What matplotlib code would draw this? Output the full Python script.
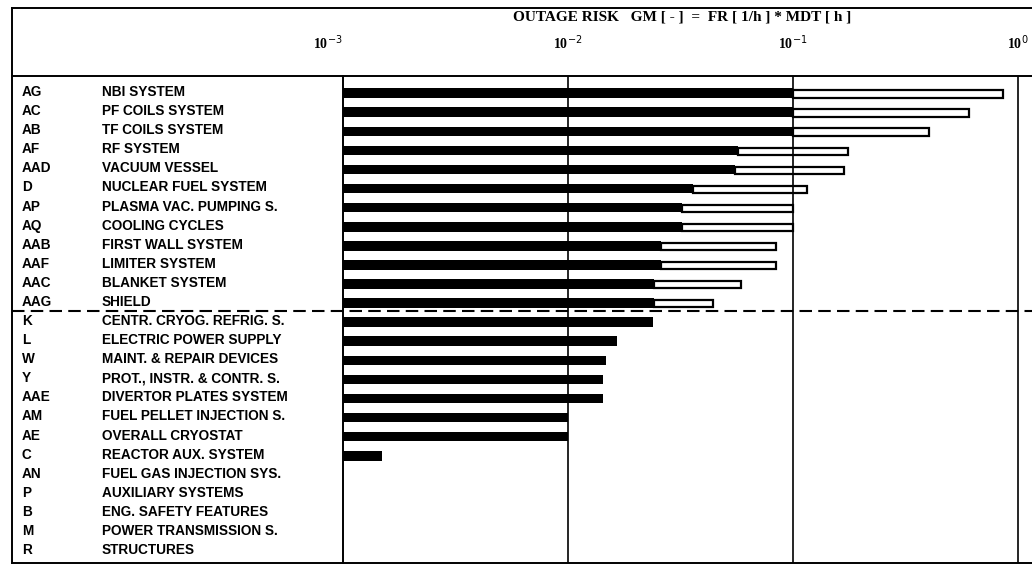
import matplotlib
matplotlib.use("Agg")
import matplotlib.pyplot as plt
from matplotlib.lines import Line2D
from matplotlib.transforms import blended_transform_factory

# ---------------- data ----------------
codes = ["AG", "AC", "AB", "AF", "AAD", "D", "AP", "AQ", "AAB", "AAF", "AAC", "AAG",
         "K", "L", "W", "Y", "AAE", "AM", "AE", "C", "AN", "P", "B", "M", "R"]
names = ["NBI SYSTEM", "PF COILS SYSTEM", "TF COILS SYSTEM", "RF SYSTEM", "VACUUM VESSEL",
         "NUCLEAR FUEL SYSTEM", "PLASMA VAC. PUMPING S.", "COOLING CYCLES",
         "FIRST WALL SYSTEM", "LIMITER SYSTEM", "BLANKET SYSTEM", "SHIELD",
         "CENTR. CRYOG. REFRIG. S.", "ELECTRIC POWER SUPPLY", "MAINT. & REPAIR DEVICES",
         "PROT., INSTR. & CONTR. S.", "DIVERTOR PLATES SYSTEM", "FUEL PELLET INJECTION S.",
         "OVERALL CRYOSTAT", "REACTOR AUX. SYSTEM", "FUEL GAS INJECTION SYS.",
         "AUXILIARY SYSTEMS", "ENG. SAFETY FEATURES", "POWER TRANSMISSION S.", "STRUCTURES"]
# solid (lower) outage risk values
risk_low = [0.100, 0.100, 0.100, 0.057, 0.055, 0.036, 0.032, 0.032, 0.026, 0.026, 0.024, 0.024,
            0.0238, 0.0165, 0.0148, 0.0143, 0.0143, 0.0100, 0.0100, 0.00149,
            None, None, None, None, None]
# open (upper) outage risk values
risk_high = [0.857, 0.605, 0.402, 0.175, 0.169, 0.115, 0.100, 0.100, 0.084, 0.084, 0.059, 0.044,
             None, None, None, None, None, None, None, None,
             None, None, None, None, None]
tick_values = [1e-3, 1e-2, 1e-1, 1e0]
tick_labels = ["10$^{-3}$", "10$^{-2}$", "10$^{-1}$", "10$^{0}$"]
title = "OUTAGE RISK   GM [ - ]  =  FR [ 1/h ] * MDT [ h ]"
n_upper = 12

# ---------------- figure ----------------
W, H = 1032, 570
fig = plt.figure(figsize=(W / 100, H / 100), dpi=100)

def fx(px):
    return px / W

def fy(py):
    return 1 - py / H

x0, x1 = 343, 1032
ytop, ybot = 76, 563
ax = fig.add_axes([fx(x0), fy(ybot), fx(x1) - fx(x0), fy(ytop) - fy(ybot)])
ax.set_xscale("log")
ax.set_xlim(1e-3, 10 ** (-3 + (x1 - x0) / 225))
n = len(codes)
ax.set_ylim(n - 1 + 0.68, -0.84)

for sp in ["top", "right", "bottom", "left"]:
    ax.spines[sp].set_visible(False)
ax.set_xticks([])
ax.set_yticks([])
ax.xaxis.set_minor_locator(matplotlib.ticker.NullLocator())

base = 1e-3
for i in range(n):
    lo = risk_low[i]
    hi = risk_high[i]
    if lo is not None:
        ax.barh(i + 0.06, lo - base, left=base, height=0.50, color="black", zorder=2)
    if hi is not None and lo is not None:
        ax.barh(i + 0.10, hi - lo, left=lo, height=0.38, facecolor="white",
                edgecolor="black", linewidth=1.6, zorder=3)

for v in tick_values[1:]:
    ax.axvline(v, color="black", lw=1.2, zorder=4)

# dashed separator
trans_fx_dy = blended_transform_factory(fig.transFigure, ax.transData)
ax.add_line(Line2D([fx(12), fx(1032)], [n_upper - 0.5, n_upper - 0.5], transform=trans_fx_dy,
                   color="black", lw=1.5, dashes=(6, 3), clip_on=False, zorder=5))

# frame lines
lw = 1.4
def fline(xs, ys, lw=lw):
    fig.add_artist(Line2D([fx(x) for x in xs], [fy(y) for y in ys], color="black", lw=lw))

fline([12, 1032], [8, 8])
fline([12, 1032], [ytop, ytop])
fline([12, 1032], [ybot, ybot])
fline([12, 12], [8, ybot])
fline([x0, x0], [ytop, ybot])

# row labels
lab_font = dict(family="Liberation Sans", fontsize=9.8, weight="bold", color="black")
for i in range(n):
    ax.text(fx(22), i, codes[i], transform=trans_fx_dy, va="center", ha="left", **lab_font)
    ax.text(fx(102), i, names[i], transform=trans_fx_dy, va="center", ha="left", **lab_font)

# header
serif = dict(family="Liberation Serif", color="black", weight="bold")
fig.text(fx(682), fy(17), title, ha="center", va="center", fontsize=11, **serif)
trans_dx_fy = blended_transform_factory(ax.transData, fig.transFigure)
for k, (v, lab) in enumerate(zip(tick_values, tick_labels)):
    ha = "right" if k == 0 else "center"
    ax.text(v, fy(43), lab, transform=trans_dx_fy, ha=ha, va="center", fontsize=10,
            clip_on=False, **serif)

fig.savefig("out.png", dpi=100)
